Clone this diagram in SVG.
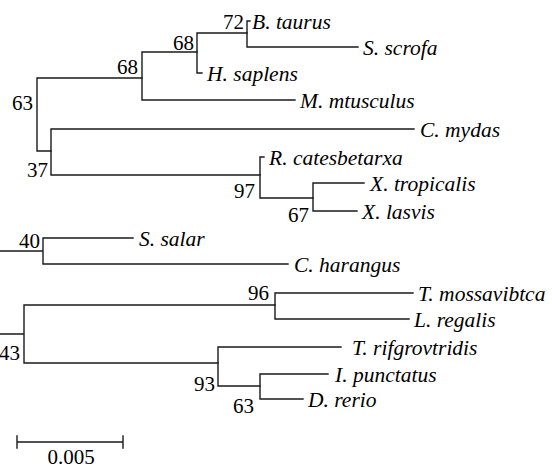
<svg xmlns="http://www.w3.org/2000/svg" width="552" height="468" viewBox="0 0 552 468">
<style>
.br{fill:none;stroke:#1a1a1a;stroke-width:1.4;stroke-linecap:square}
.sp{font-family:"Liberation Serif","Times New Roman",serif;font-style:italic;font-size:21.5px;fill:#000}
.bs{font-family:"Liberation Serif","Times New Roman",serif;font-size:21px;fill:#000;text-anchor:end}
</style>
<rect width="552" height="468" fill="#fff"/>
<g id="connectors" class="br">
<path d="M37,78V151M37,78H142M37,151H51"/>
<path d="M142,52V100M142,52H197M142,100H295"/>
<path d="M197,33V73M197,33H247M197,73H202"/>
<path d="M247,21V47M247,21H250M247,47H358"/>
<path d="M51,129V175M51,129H414M51,175H260"/>
<path d="M260,157V198M260,157H264M260,198H313"/>
<path d="M313,183V211M313,183H364M313,211H357"/>
<path d="M0,251H43M43,238V264M43,238H133M43,264H288"/>
<path d="M0,334H24M24,305V363M24,305H275M24,363H218"/>
<path d="M275,293V319M275,293H413M275,319H409"/>
<path d="M218,347V386M218,347H341M218,386H260"/>
<path d="M260,374V399M260,374H328M260,399H303"/>
</g>
<g id="leaf-b-taurus"><text class="sp" x="252" y="29">B. taurus</text></g>
<g id="leaf-s-scrofa"><text class="sp" x="363" y="55">S. scrofa</text></g>
<g id="leaf-h-saplens"><text class="sp" x="207" y="81">H. saplens</text></g>
<g id="leaf-m-mtusculus"><text class="sp" x="300" y="108">M. mtusculus</text></g>
<g id="leaf-c-mydas"><text class="sp" x="420" y="137">C. mydas</text></g>
<g id="leaf-r-catesbetarxa"><text class="sp" x="269" y="165">R. catesbetarxa</text></g>
<g id="leaf-x-tropicalis"><text class="sp" x="370" y="191">X. tropicalis</text></g>
<g id="leaf-x-lasvis"><text class="sp" x="362" y="219">X. lasvis</text></g>
<g id="leaf-s-salar"><text class="sp" x="139" y="246">S. salar</text></g>
<g id="leaf-c-harangus"><text class="sp" x="294" y="272">C. harangus</text></g>
<g id="leaf-t-mossavibtca"><text class="sp" x="418" y="301">T. mossavibtca</text></g>
<g id="leaf-l-regalis"><text class="sp" x="414" y="327">L. regalis</text></g>
<g id="leaf-t-rifgrovtridis"><text class="sp" x="352" y="355">T. rifgrovtridis</text></g>
<g id="leaf-i-punctatus"><text class="sp" x="335" y="382">I. punctatus</text></g>
<g id="leaf-d-rerio"><text class="sp" x="308" y="407">D. rerio</text></g>
<g id="node-72"><text class="bs" x="244" y="29">72</text></g>
<g id="node-68a"><text class="bs" x="194" y="50">68</text></g>
<g id="node-68b"><text class="bs" x="138" y="74">68</text></g>
<g id="node-63a"><text class="bs" x="33" y="110">63</text></g>
<g id="node-37"><text class="bs" x="48" y="177">37</text></g>
<g id="node-97"><text class="bs" x="255" y="198">97</text></g>
<g id="node-67"><text class="bs" x="309" y="222">67</text></g>
<g id="node-40"><text class="bs" x="40" y="248">40</text></g>
<g id="node-96"><text class="bs" x="269" y="300">96</text></g>
<g id="node-43"><text class="bs" x="20" y="360">43</text></g>
<g id="node-93"><text class="bs" x="215" y="391">93</text></g>
<g id="node-63b"><text class="bs" x="254" y="413">63</text></g>
<g id="scale-bar">
<path class="br" d="M17,442H123M17,436V448M123,436V448"/>
<text class="bs" style="text-anchor:middle" x="71" y="464">0.005</text>
</g>
</svg>
